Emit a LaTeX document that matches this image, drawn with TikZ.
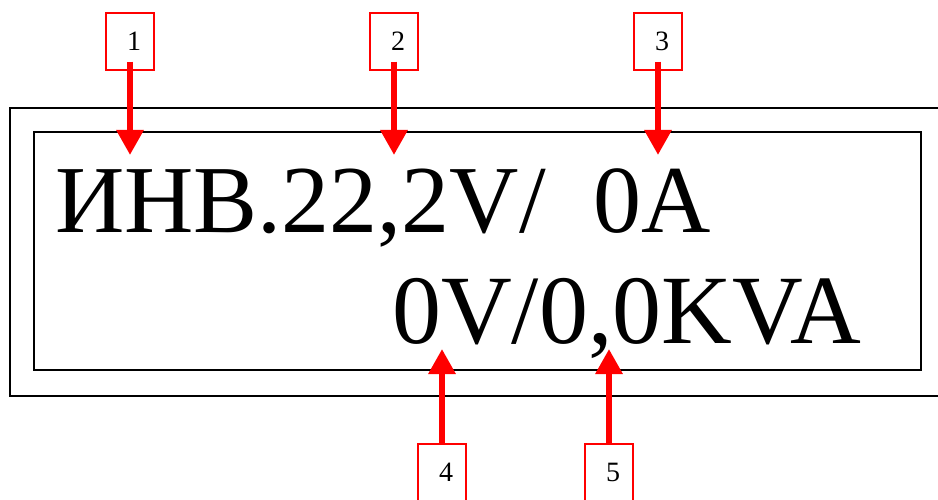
\documentclass[tikz,border=0pt]{standalone}
\usepackage{fontspec}
\setmainfont{Liberation Serif}
\usetikzlibrary{calc,arrows.meta}

\begin{document}
\begin{tikzpicture}[x=1pt,y=-1pt]
        \tikzstyle{num}=[draw=red,line width=1.5pt,minimum width=48pt,minimum height=57pt,inner sep=0pt,font=\fontsize{28}{28}\selectfont]
        \tikzstyle{pointer}=[red,line width=6pt,-{Triangle[width=26pt,length=25pt]}]
        \tikzstyle{lcd}=[anchor=base west,inner sep=0pt,font=\fontsize{98}{98}\selectfont]
        \useasboundingbox (0,0) rectangle (938,500);

        % display frame
        \draw[line width=2pt] (945,108) -- (10,108) -- (10,396) -- (945,396);
        \draw[line width=2pt] (34,132) rectangle (921,370);

        \node[lcd,font=\fontsize{96}{96}\selectfont] (l1) at (55,233) {ИНВ.22,2V/\ \ 0A};
        \node[lcd] (l2) at (392,343) {0V/0,0KVA};

        \node[num] (1) at (130,41.5) {\hspace*{8pt}1};
        \node[num] (2) at (394,41.5) {\hspace*{8pt}2};
        \node[num] (3) at (658,41.5) {\hspace*{8pt}3};
        \node[num] (4) at (442,472.5) {\hspace*{8pt}4};
        \node[num] (5) at (609,472.5) {\hspace*{8pt}5};

        \coordinate (t1) at (130,155);
        \coordinate (t2) at (394,155);
        \coordinate (t3) at (658,155);
        \coordinate (t4) at (442,349);
        \coordinate (t5) at (609,349);

        \draw[pointer] ($(1.south)+(0,-9)$) -- (t1);
        \draw[pointer] ($(2.south)+(0,-9)$) -- (t2);
        \draw[pointer] ($(3.south)+(0,-9)$) -- (t3);
        \draw[pointer] (4.north) -- (t4);
        \draw[pointer] (5.north) -- (t5);
\end{tikzpicture}
\end{document}
